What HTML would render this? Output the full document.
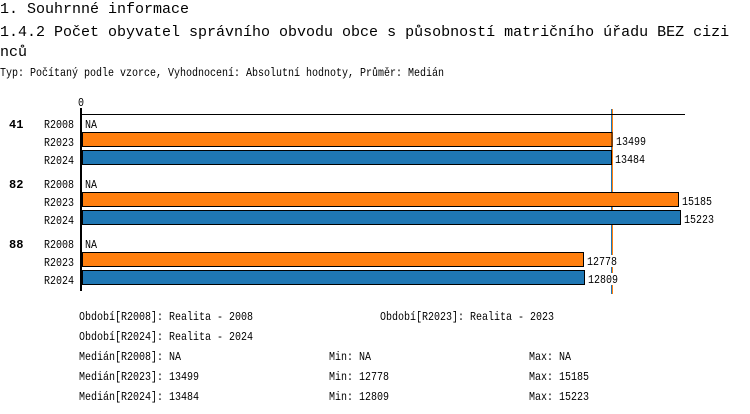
<!DOCTYPE html>
<html>
<head>
<meta charset="utf-8">
<style>
  html,body{margin:0;padding:0;background:#fff;}
  svg{display:block;}
  text{font-family:"Liberation Mono","DejaVu Sans Mono",monospace;fill:#000;}
  .t{font-size:15px;}
  .s{font-size:12px;}
  .b{font-size:12px;font-weight:bold;}
</style>
</head>
<body>
<svg width="750" height="414" viewBox="0 0 750 414" xmlns="http://www.w3.org/2000/svg">
  <text class="t" x="0" y="13">1. Souhrnné informace</text>
  <text class="t" x="0" y="36">1.4.2 Počet obyvatel správního obvodu obce s působností matričního úřadu BEZ cizi</text>
  <text class="t" x="0" y="56">nců</text>
  <text class="s" x="0" y="76" textLength="444" lengthAdjust="spacingAndGlyphs">Typ: Počítaný podle vzorce, Vyhodnocení: Absolutní hodnoty, Průměr: Medián</text>

  <!-- median lines (behind bars) -->
  <line x1="611.5" y1="109" x2="611.5" y2="294" stroke="#1f77b4" stroke-width="1"/>
  <line x1="612.5" y1="109" x2="612.5" y2="294" stroke="#ff7f0e" stroke-width="1"/>

  <!-- axis -->
  <text class="s" x="78" y="106" textLength="6" lengthAdjust="spacingAndGlyphs">0</text>
  <line x1="80" y1="114.5" x2="685" y2="114.5" stroke="#000" stroke-width="1"/>
  <rect x="80" y="108" width="2" height="183" fill="#000"/>

  <!-- group 41 -->
  <text class="b" x="9" y="128">41</text>
  <text class="s" x="44" y="128" textLength="30" lengthAdjust="spacingAndGlyphs">R2008</text>
  <text class="s" x="85" y="128" textLength="12" lengthAdjust="spacingAndGlyphs">NA</text>
  <text class="s" x="44" y="146" textLength="30" lengthAdjust="spacingAndGlyphs">R2023</text>
  <rect x="82.5" y="132.5" width="529.5" height="14" fill="#ff7f0e" stroke="#000" stroke-width="1"/>
  <rect x="614" y="135" width="33" height="12" fill="#fff"/>
  <text class="s" x="616" y="145" textLength="30" lengthAdjust="spacingAndGlyphs">13499</text>
  <text class="s" x="44" y="164" textLength="30" lengthAdjust="spacingAndGlyphs">R2024</text>
  <rect x="82.5" y="150.5" width="529" height="14" fill="#1f77b4" stroke="#000" stroke-width="1"/>
  <rect x="613" y="153" width="33" height="12" fill="#fff"/>
  <text class="s" x="615" y="163" textLength="30" lengthAdjust="spacingAndGlyphs">13484</text>

  <!-- group 82 -->
  <text class="b" x="9" y="188">82</text>
  <text class="s" x="44" y="188" textLength="30" lengthAdjust="spacingAndGlyphs">R2008</text>
  <text class="s" x="85" y="188" textLength="12" lengthAdjust="spacingAndGlyphs">NA</text>
  <text class="s" x="44" y="206" textLength="30" lengthAdjust="spacingAndGlyphs">R2023</text>
  <rect x="82.5" y="192.5" width="596" height="14" fill="#ff7f0e" stroke="#000" stroke-width="1"/>
  <text class="s" x="682" y="205" textLength="30" lengthAdjust="spacingAndGlyphs">15185</text>
  <text class="s" x="44" y="224" textLength="30" lengthAdjust="spacingAndGlyphs">R2024</text>
  <rect x="82.5" y="210.5" width="598" height="14" fill="#1f77b4" stroke="#000" stroke-width="1"/>
  <text class="s" x="684" y="223" textLength="30" lengthAdjust="spacingAndGlyphs">15223</text>

  <!-- group 88 -->
  <text class="b" x="9" y="248">88</text>
  <text class="s" x="44" y="248" textLength="30" lengthAdjust="spacingAndGlyphs">R2008</text>
  <text class="s" x="85" y="248" textLength="12" lengthAdjust="spacingAndGlyphs">NA</text>
  <text class="s" x="44" y="266" textLength="30" lengthAdjust="spacingAndGlyphs">R2023</text>
  <rect x="82.5" y="252.5" width="501" height="14" fill="#ff7f0e" stroke="#000" stroke-width="1"/>
  <rect x="586" y="255" width="33" height="12" fill="#fff"/>
  <text class="s" x="587" y="265" textLength="30" lengthAdjust="spacingAndGlyphs">12778</text>
  <text class="s" x="44" y="284" textLength="30" lengthAdjust="spacingAndGlyphs">R2024</text>
  <rect x="82.5" y="270.5" width="502" height="14" fill="#1f77b4" stroke="#000" stroke-width="1"/>
  <rect x="587" y="273" width="33" height="12" fill="#fff"/>
  <text class="s" x="588" y="283" textLength="30" lengthAdjust="spacingAndGlyphs">12809</text>

  <!-- legend -->
  <text class="s" x="79" y="320" textLength="174" lengthAdjust="spacingAndGlyphs">Období[R2008]: Realita - 2008</text>
  <text class="s" x="380" y="320" textLength="174" lengthAdjust="spacingAndGlyphs">Období[R2023]: Realita - 2023</text>
  <text class="s" x="79" y="340" textLength="174" lengthAdjust="spacingAndGlyphs">Období[R2024]: Realita - 2024</text>
  <text class="s" x="79" y="360" textLength="102" lengthAdjust="spacingAndGlyphs">Medián[R2008]: NA</text>
  <text class="s" x="329" y="360" textLength="42" lengthAdjust="spacingAndGlyphs">Min: NA</text>
  <text class="s" x="529" y="360" textLength="42" lengthAdjust="spacingAndGlyphs">Max: NA</text>
  <text class="s" x="79" y="380" textLength="120" lengthAdjust="spacingAndGlyphs">Medián[R2023]: 13499</text>
  <text class="s" x="329" y="380" textLength="60" lengthAdjust="spacingAndGlyphs">Min: 12778</text>
  <text class="s" x="529" y="380" textLength="60" lengthAdjust="spacingAndGlyphs">Max: 15185</text>
  <text class="s" x="79" y="400" textLength="120" lengthAdjust="spacingAndGlyphs">Medián[R2024]: 13484</text>
  <text class="s" x="329" y="400" textLength="60" lengthAdjust="spacingAndGlyphs">Min: 12809</text>
  <text class="s" x="529" y="400" textLength="60" lengthAdjust="spacingAndGlyphs">Max: 15223</text>
</svg>
</body>
</html>
